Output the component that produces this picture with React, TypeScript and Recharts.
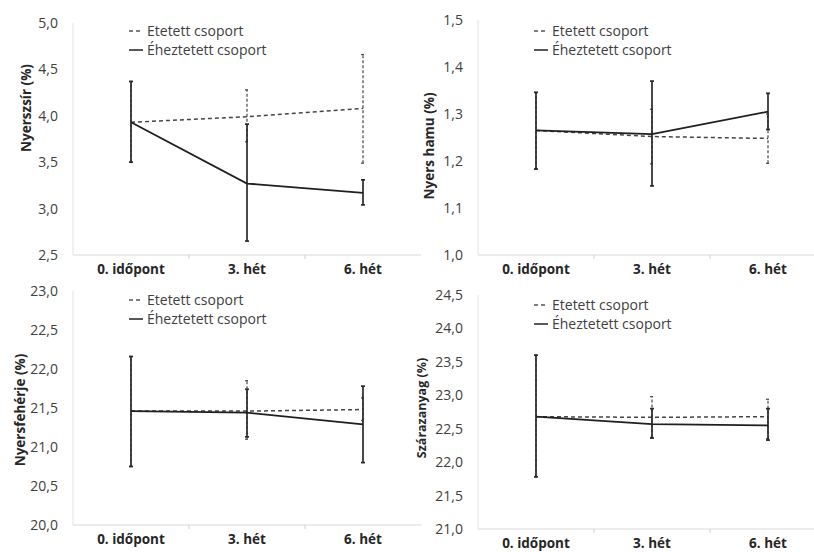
import React from 'react';
import { LineChart, Line, XAxis, YAxis, ErrorBar, Legend, Label } from 'recharts';

const categories = ['0. időpont', '3. hét', '6. hét'];
const seriesNames = ['Etetett csoport', 'Éheztetett csoport'];

// Nyerszsír (%)
const fatFed = [3.93, 3.99, 4.08];
const fatFedRange = [[3.5, 4.37], [3.72, 4.28], [3.49, 4.66]];
const fatStarved = [3.93, 3.27, 3.17];
const fatStarvedRange = [[3.5, 4.37], [2.65, 3.91], [3.04, 3.31]];
const fatTicks = [2.5, 3.0, 3.5, 4.0, 4.5, 5.0];

// Nyers hamu (%)
const ashFed = [1.265, 1.252, 1.248];
const ashFedRange = [[1.183, 1.346], [1.194, 1.31], [1.195, 1.3]];
const ashStarved = [1.265, 1.257, 1.305];
const ashStarvedRange = [[1.183, 1.346], [1.147, 1.37], [1.267, 1.344]];
const ashTicks = [1.0, 1.1, 1.2, 1.3, 1.4, 1.5];

// Nyersfehérje (%)
const protFed = [21.46, 21.46, 21.48];
const protFedRange = [[20.75, 22.16], [21.1, 21.85], [21.34, 21.63]];
const protStarved = [21.46, 21.44, 21.29];
const protStarvedRange = [[20.75, 22.16], [21.13, 21.74], [20.8, 21.78]];
const protTicks = [20.0, 20.5, 21.0, 21.5, 22.0, 22.5, 23.0];

// Szárazanyag (%)
const dryFed = [22.68, 22.67, 22.68];
const dryFedRange = [[21.78, 23.6], [22.37, 22.98], [22.35, 22.94]];
const dryStarved = [22.68, 22.57, 22.55];
const dryStarvedRange = [[21.78, 23.6], [22.36, 22.8], [22.33, 22.8]];
const dryTicks = [21.0, 21.5, 22.0, 22.5, 23.0, 23.5, 24.0, 24.5];

const FONT = '"Open Sans", sans-serif';
const PLOT_LEFT = 73;
const PLOT_WIDTH = 348;
const CHART_WIDTH = 430;
const BAND = PLOT_WIDTH / categories.length;

const buildRows = (fed: number[], fedR: number[][], st: number[], stR: number[][]) =>
  categories.map((cat, i) => ({
    cat,
    fed: fed[i],
    fedErr: [fed[i] - fedR[i][0], fedR[i][1] - fed[i]],
    starved: st[i],
    starvedErr: [st[i] - stR[i][0], stR[i][1] - st[i]],
  }));

const CategoryTick = (props: any) => {
  const { x, y, payload, index } = props;
  return (
    <g>
      {index < categories.length - 1 && (
        <line x1={x + BAND / 2} x2={x + BAND / 2} y1={y} y2={y + 4} stroke="#d0d0d0" />
      )}
      <text x={x} y={y + 19} textAnchor="middle" fontFamily={FONT} fontWeight={700} fontSize={13.5} fill="#262626">
        {payload.value}
      </text>
    </g>
  );
};

const LegendBox = () => (
  <div style={{ fontFamily: FONT, fontSize: 14, color: '#404040', lineHeight: '19px' }}>
    {seriesNames.map((name, i) => (
      <div key={name} style={{ display: 'flex', alignItems: 'center', whiteSpace: 'nowrap' }}>
        <svg width={19} height={10}>
          <line x1={1} x2={15} y1={5} y2={5} stroke={i === 0 ? '#555' : '#222'} strokeWidth={1.5}
            strokeDasharray={i === 0 ? '4 3' : undefined} />
        </svg>
        <span>{name}</span>
      </div>
    ))}
  </div>
);

interface PanelProps {
  rows: any[];
  ticks: number[];
  yLabel: string;
  labelX: number;
  labelY: number;
  labelSize: number;
  left: number;
  top: number;
  plotTop: number;
  plotBottom: number;
  legendTop: number;
}

const Panel: React.FC<PanelProps> = ({ rows, ticks, yLabel, labelX, labelY, labelSize, left, top, plotTop, plotBottom, legendTop }) => {
  const height = plotBottom + 35;
  return (
    <div style={{ position: 'absolute', left, top }}>
      <LineChart
        width={CHART_WIDTH}
        height={height}
        data={rows}
        margin={{ top: plotTop, right: CHART_WIDTH - PLOT_LEFT - PLOT_WIDTH, left: 0, bottom: 5 }}
      >
        <XAxis
          dataKey="cat"
          height={30}
          padding={{ left: BAND / 2, right: BAND / 2 }}
          axisLine={{ stroke: '#d9d9d9' }}
          tickLine={false}
          tickSize={0}
          tickMargin={0}
          interval={0}
          tick={<CategoryTick />}
        />
        <YAxis
          width={PLOT_LEFT}
          domain={[ticks[0], ticks[ticks.length - 1]]}
          ticks={ticks}
          axisLine={{ stroke: '#e3e3e3' }}
          tickLine={false}
          tickSize={0}
          tickMargin={15}
          tickFormatter={(v: number) => v.toFixed(1).replace('.', ',')}
          tick={{ fill: '#404040', fontSize: 14, fontFamily: FONT }}
        >
          <Label
            content={() => (
              <text
                x={labelX}
                y={labelY}
                transform={`rotate(-90, ${labelX}, ${labelY})`}
                textAnchor="middle"
                dominantBaseline="central"
                fontFamily={FONT}
                fontWeight={700}
                fontSize={labelSize}
                fill="#262626"
              >
                {yLabel}
              </text>
            )}
          />
        </YAxis>
        <Legend
          layout="vertical"
          align="center"
          verticalAlign="middle"
          content={<LegendBox />}
          wrapperStyle={{ position: 'absolute', left: 128, top: legendTop, width: 'auto', height: 'auto' }}
        />
        <Line
          dataKey="fed"
          name={seriesNames[0]}
          stroke="#444"
          strokeWidth={1.5}
          strokeDasharray="4 3"
          dot={false}
          isAnimationActive={false}
        >
          <ErrorBar dataKey="fedErr" width={2} stroke="#555" strokeWidth={1.3} strokeDasharray="3 2" isAnimationActive={false} />
        </Line>
        <Line
          dataKey="starved"
          name={seriesNames[1]}
          stroke="#1f1f1f"
          strokeWidth={1.8}
          dot={false}
          isAnimationActive={false}
        >
          <ErrorBar dataKey="starvedErr" width={2} stroke="#2a2a2a" strokeWidth={1.7} isAnimationActive={false} />
        </Line>
      </LineChart>
    </div>
  );
};

export default function App() {
  return (
    <div style={{ position: 'absolute', left: 0, top: 0, width: 814, height: 552, background: '#fff', overflow: 'hidden' }}>
      <Panel
        rows={buildRows(fatFed, fatFedRange, fatStarved, fatStarvedRange)}
        ticks={fatTicks}
        yLabel="Nyerszsír (%)"
        labelX={26}
        labelY={108}
        labelSize={13.5}
        left={0}
        top={0}
        plotTop={23}
        plotBottom={255}
        legendTop={21}
      />
      <Panel
        rows={buildRows(ashFed, ashFedRange, ashStarved, ashStarvedRange)}
        ticks={ashTicks}
        yLabel="Nyers hamu (%)"
        labelX={24}
        labelY={146}
        labelSize={13.5}
        left={405}
        top={0}
        plotTop={20}
        plotBottom={255}
        legendTop={21}
      />
      <Panel
        rows={buildRows(protFed, protFedRange, protStarved, protStarvedRange)}
        ticks={protTicks}
        yLabel="Nyersfehérje (%)"
        labelX={20}
        labelY={135}
        labelSize={13.5}
        left={0}
        top={275}
        plotTop={16}
        plotBottom={250}
        legendTop={15}
      />
      <Panel
        rows={buildRows(dryFed, dryFedRange, dryStarved, dryStarvedRange)}
        ticks={dryTicks}
        yLabel="Szárazanyag (%)"
        labelX={16}
        labelY={133}
        labelSize={12.5}
        left={405}
        top={275}
        plotTop={20}
        plotBottom={254}
        legendTop={20}
      />
    </div>
  );
}
